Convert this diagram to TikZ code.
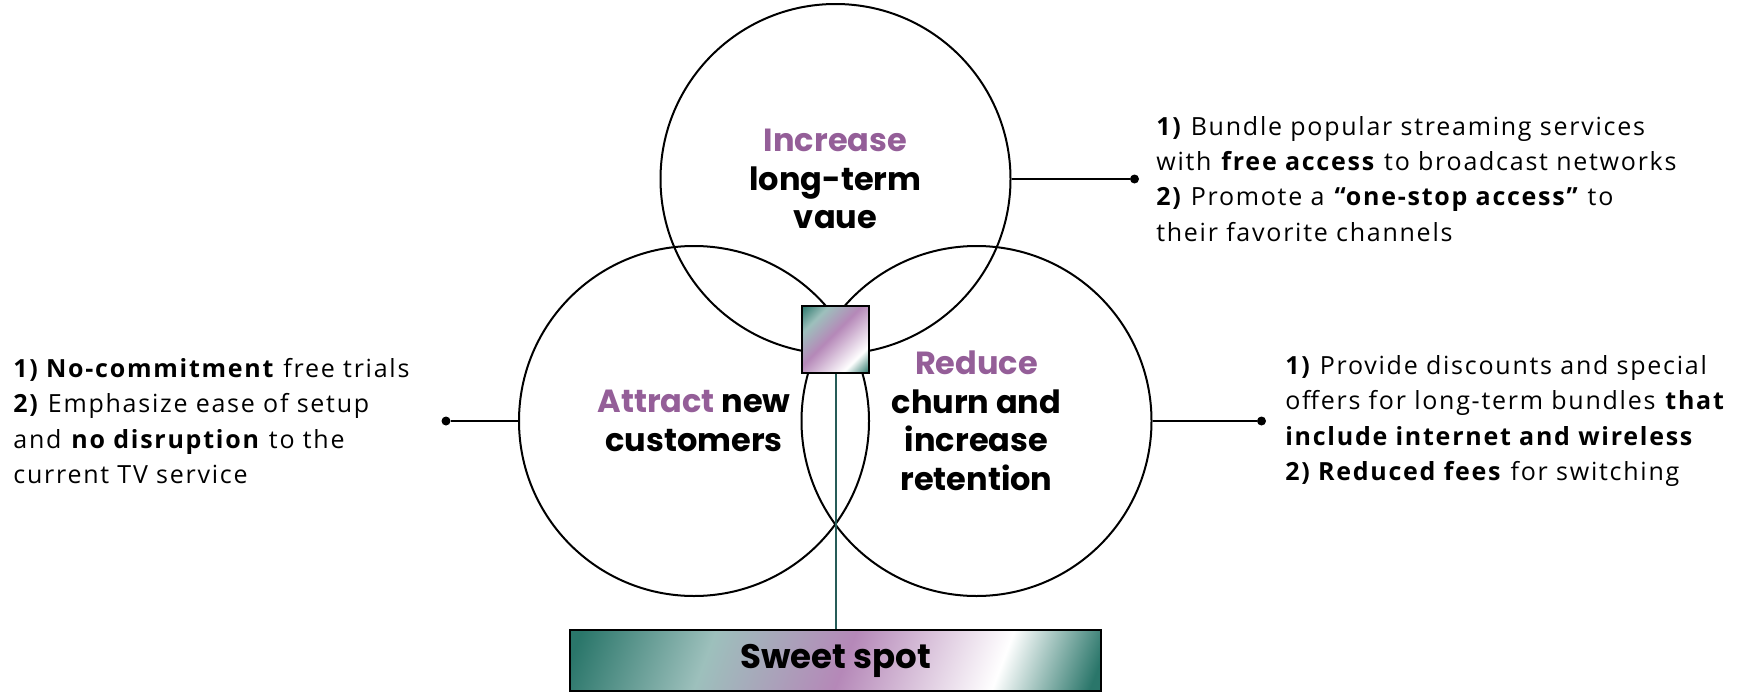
\documentclass[tikz,border=0pt]{standalone}
\usepackage{fontspec}
\setmainfont{Open Sans}[LetterSpace=7]
\newfontfamily\headfont{Poppins}
\usepackage{xcolor}
\usetikzlibrary{positioning}
\definecolor{sweetteal}{RGB}{42,118,106}
\definecolor{sweetlight}{RGB}{157,192,188}
\definecolor{sweetpurple}{RGB}{181,136,184}
\definecolor{headpurple}{RGB}{148,94,152}
\definecolor{stemteal}{RGB}{38,92,88}
\pgfdeclarehorizontalshading{sweetbar}{100bp}{color(0bp)=(sweetteal); color(28.3bp)=(sweetteal); color(39.3bp)=(sweetlight); color(50.8bp)=(sweetpurple); color(63.7bp)=(white); color(71.7bp)=(sweetteal); color(100bp)=(sweetteal)}
\pgfdeclarehorizontalshading{sweetsquare}{100bp}{color(0bp)=(sweetteal); color(14.6bp)=(sweetteal); color(29bp)=(sweetlight); color(46.5bp)=(sweetpurple); color(71.6bp)=(white); color(85.4bp)=(sweetteal); color(100bp)=(sweetteal)}
\tikzset{
    venn-circle/.style = {draw=black, circle, line width=1pt, minimum size=175pt, inner sep=0pt, align=center, font=\headfont\bfseries\fontsize{16pt}{19.25pt}\selectfont},
    spot-box/.style = {draw=black, line width=1pt, minimum size=33.5pt, inner sep=0pt, shading=sweetsquare, shading angle=-45},
    spot-bar/.style = {draw=black, line width=1pt, minimum width=265.5pt, minimum height=30.5pt, inner sep=0pt,
        path picture={\shade[shading=sweetbar, transform canvas={xslant=0.38}]
            ([xshift=-20pt, yshift=-5pt]path picture bounding box.south west) rectangle
            ([xshift=20pt, yshift=5pt]path picture bounding box.north east);},
        font=\headfont\bfseries\fontsize{17pt}{20pt}\selectfont},
    end-dot/.style = {fill=black, circle, minimum size=4.5pt, inner sep=0pt},
    link-line/.style = {draw=black, line width=1pt},
    stem-line/.style = {draw=stemteal, line width=1pt},
    note-text/.style = {inner sep=0pt, align=left, font=\fontsize{12.5pt}{17.6pt}\selectfont},
}
\newcommand{\hl}[1]{{\color{headpurple}#1}}

\begin{document}
\begin{tikzpicture}[x=0.5pt, y=0.5pt]
% origin sits on the middle of the sweet spot bar
\useasboundingbox (0,-32.5) rectangle (1740,660.5);
\node [venn-circle] (value) at (835.5,481.5) {\hl{Increase}\\long-term\\vaue};
\node [venn-circle] (attract) at (694,239.5) {\hl{Attract} new\\customers};
\node [venn-circle] (reduce) at (976.5,239.5) {\hl{Reduce}\\churn and\\increase\\retention};

\node [spot-box] (spot) at (835.5,321.5) {};
\node [spot-bar] (bar) at (835.5,0) {Sweet spot};
\draw [stem-line] (spot.south) -- (bar.north);

\node [end-dot] (valuedot) at ([xshift=61.5pt]value.east) {};
\node [end-dot] (attractdot) at ([xshift=-36pt]attract.west) {};
\node [end-dot] (reducedot) at ([xshift=54.5pt]reduce.east) {};
\draw [link-line] (value.east) -- (valuedot);
\draw [link-line] (attract.west) -- (attractdot);
\draw [link-line] (reduce.east) -- (reducedot);

\node [note-text, right=8.25pt of valuedot] (valuenote) {\textbf{1)} Bundle popular streaming services\\with \textbf{free access} to broadcast networks\\\textbf{2)} Promote a \textbf{“one-stop access”} to\\their favorite channels};
\node [note-text, anchor=west] (attractnote) at (13,239.5) {\textbf{1) No-commitment} free trials\\\textbf{2)} Emphasize ease of setup\\and \textbf{no disruption} to the\\current TV service};
\node [note-text, right=9.25pt of reducedot] (reducenote) {\textbf{1)} Provide discounts and special\\offers for long-term bundles \textbf{that}\\\textbf{include internet and wireless}\\\textbf{2) Reduced fees} for switching};
\end{tikzpicture}
\end{document}
